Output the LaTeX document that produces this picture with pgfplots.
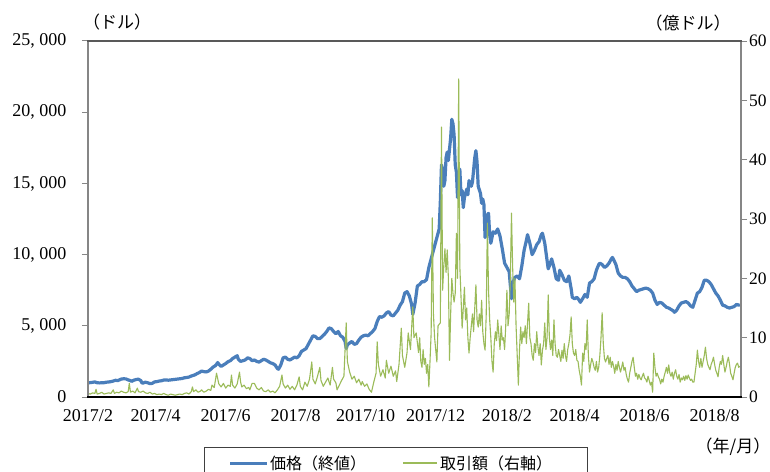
\documentclass[border=0pt]{standalone}
\usepackage{pgfplots}
\pgfplotsset{compat=1.18}
\usepackage{pgfplotstable}
\usepackage{fontspec}
\setmainfont{Liberation Serif}
\newfontfamily\jp{Noto Sans CJK JP}
\definecolor{priceblue}{HTML}{4A7EBB}
\definecolor{volgreen}{HTML}{9BBB59}
\definecolor{axisgray}{HTML}{868686}

% day = days since 2017-02-01, price in USD (close)
\pgfplotstableread{
day price
0 990
2 1010
4 1030
6 1060
8 1000
10 990
12 1000
14 1005
16 1040
18 1055
20 1080
22 1120
24 1175
26 1150
27 1190
29 1260
31 1280
33 1270
35 1200
37 1150
38 1100
40 1180
42 1230
44 1250
46 1150
47 990
48 980
50 1040
52 1000
54 940
56 960
58 1060
60 1080
62 1120
64 1140
66 1190
68 1200
70 1180
72 1200
74 1220
76 1240
78 1260
80 1280
82 1300
84 1350
86 1370
88 1400
89 1440
91 1500
93 1550
95 1640
97 1720
99 1820
101 1780
103 1760
105 1820
107 1950
109 2100
111 2200
112 2300
113 2420
114 2300
116 2150
118 2250
120 2350
122 2480
124 2550
126 2700
128 2800
129 2850
130 2900
131 2650
133 2500
135 2550
137 2600
139 2750
141 2700
143 2550
145 2600
147 2500
149 2450
151 2550
153 2650
155 2600
157 2500
159 2400
161 2350
163 2250
165 2000
166 1950
168 2250
170 2750
172 2800
174 2650
176 2600
178 2700
180 2800
182 2750
184 2900
186 3200
188 3300
190 3400
192 3700
194 4000
196 4300
198 4250
200 4100
202 4100
204 4250
206 4400
208 4600
210 4850
212 4800
214 4600
216 4450
218 4600
220 4300
222 4200
224 3900
225 3400
226 3650
228 3800
230 3900
232 3700
234 3750
236 4000
238 4200
240 4300
242 4350
244 4300
246 4450
248 4600
250 4800
252 5300
254 5650
256 5600
258 5700
260 5900
262 6000
264 5750
266 5700
268 5900
270 6100
272 6450
274 6700
276 7300
278 7400
280 7100
282 6500
283 5800
285 6600
287 7800
289 7900
291 8100
293 8100
295 8250
297 9100
299 9700
300 10000
302 10600
304 11200
306 11800
307 13700
308 16300
309 16000
310 14800
311 15200
312 16800
313 17200
314 16600
316 18200
317 19500
318 19200
319 18400
320 16300
321 15800
322 14000
323 15200
324 16000
325 14200
326 14500
327 13300
328 14000
330 14600
331 14200
332 15200
334 14800
335 15100
337 16800
338 17300
339 16500
340 14800
342 14300
343 13600
344 13900
345 13500
346 11200
347 11500
348 12800
349 12900
350 11400
351 10800
352 11200
353 11600
355 11500
357 11800
359 11300
361 10400
363 9400
365 9100
367 8800
369 6900
370 7700
371 8200
372 8400
374 8500
376 8300
378 9200
380 10300
382 11000
383 11400
385 10800
387 10000
389 10300
391 10700
393 10900
395 11400
396 11500
398 10800
400 9600
401 9000
402 9200
404 9700
406 9100
408 8300
410 8200
411 8900
413 8600
415 8200
417 8100
419 8500
421 7600
422 7000
424 6900
426 7000
428 6800
429 6650
431 6900
433 7200
435 7000
437 8000
439 8100
441 8300
443 8900
445 9300
446 9400
448 9300
450 9100
452 9200
454 9400
456 9700
457 9800
458 9650
460 9300
462 8700
464 8500
466 8400
468 8400
470 8300
472 8100
474 7800
476 7600
478 7400
480 7500
482 7550
484 7600
486 7650
488 7600
490 7500
492 7300
494 6800
496 6500
498 6650
500 6600
502 6450
504 6300
506 6250
508 6150
510 6050
511 5950
513 6100
515 6400
517 6600
519 6650
521 6700
523 6600
525 6400
527 6300
529 6800
531 7300
533 7400
535 7700
537 8200
539 8200
541 8100
543 7900
545 7600
547 7300
549 7100
551 6800
553 6450
555 6400
557 6300
559 6250
561 6300
563 6350
565 6500
567 6450
568 6500
}\pricetable

% trading value in 100 million USD
\pgfplotstableread{
day vol
0 0.6
2 0.5
4 0.7
6 0.6
7 1.3
8 0.5
10 0.6
12 0.8
14 0.5
16 0.6
18 0.7
20 0.6
22 1.2
23 0.6
25 0.8
27 0.7
29 1.0
31 0.8
33 0.7
35 0.9
36 2.3
37 0.8
39 1.0
41 0.7
43 1.5
44 0.9
46 0.8
48 1.0
50 0.7
52 0.6
54 0.8
56 0.5
58 0.6
60 0.4
62 0.5
64 0.4
66 0.6
68 0.4
70 0.3
72 0.5
74 0.4
76 0.3
78 0.4
80 0.5
82 0.4
84 0.6
86 0.7
88 0.5
90 0.9
91 1.7
92 0.9
94 1.2
96 0.8
98 1.0
99 1.2
101 0.8
103 1.0
105 1.3
107 1.1
108 2.0
110 1.6
112 4.0
114 2.2
116 1.7
118 2.3
120 1.5
122 2.0
124 1.8
125 3.7
126 2.0
128 1.5
130 2.2
132 4.2
133 2.5
134 1.7
136 2.0
138 1.4
140 1.6
141 1.2
143 2.3
145 2.3
147 1.5
149 1.2
151 1.6
153 1.0
155 0.9
157 1.2
159 0.8
161 1.0
163 0.7
165 1.2
167 1.8
169 3.7
170 2.2
172 1.5
174 2.0
176 1.3
178 1.8
180 1.2
182 2.0
184 3.4
185 1.8
187 1.2
189 2.5
191 1.8
193 3.0
195 5.9
196 3.0
198 2.2
200 3.5
202 5.0
203 2.8
205 1.8
207 2.5
209 3.2
211 2.0
213 5.0
214 3.0
216 2.4
217 1.2
219 2.0
221 2.8
223 3.5
225 12.5
226 6.0
228 4.2
230 3.0
232 3.5
234 2.4
236 3.0
238 2.0
239 2.6
241 1.8
243 2.2
245 1.3
247 0.8
249 2.5
251 4.0
252 9.3
253 5.5
255 3.5
257 4.6
259 3.2
260 6.2
262 4.0
264 5.2
266 3.5
268 4.4
269 2.6
271 5.5
273 11.6
274 7.0
276 5.0
278 7.5
279 10.8
281 8.0
283 15.2
284 10.0
286 10.8
288 7.5
289 10.0
290 6.0
291 5.0
292 8.0
293 5.5
294 6.5
295 4.0
296 5.5
297 1.7
298 6.0
299 10.8
300 30.2
301 14.0
302 10.0
304 5.9
305 12.0
307 12.5
308 45.5
309 18.0
310 22.0
311 25.0
312 21.0
313 24.8
314 20.2
315 6.2
316 14.0
317 20.0
318 17.5
319 16.0
320 17.5
321 27.6
322 20.0
323 53.6
324 22.0
325 17.0
326 11.6
327 15.0
328 18.5
329 13.0
330 15.0
331 10.0
332 7.4
333 10.0
334 12.0
335 14.0
336 11.0
337 15.0
338 18.9
339 13.0
340 11.8
341 14.0
342 12.0
343 16.3
344 11.0
345 9.0
346 7.9
347 14.0
348 29.3
349 18.0
350 13.0
351 10.0
352 6.0
353 4.2
354 9.0
355 11.0
356 9.5
357 13.0
358 10.5
359 8.0
360 12.0
361 9.6
362 10.0
363 8.0
364 12.0
365 18.0
366 12.0
367 14.0
368 20.0
369 31.0
370 22.0
371 16.0
372 20.0
373 12.0
374 7.0
375 2.0
376 8.0
377 11.8
378 9.0
379 11.0
380 10.0
381 12.0
382 9.0
383 12.5
384 15.8
385 10.0
386 9.0
387 7.0
388 6.2
389 9.0
390 7.5
391 11.0
392 8.5
393 7.0
394 9.0
395 5.4
396 7.9
397 9.0
398 12.5
399 8.0
400 10.0
401 17.2
402 10.0
403 8.0
404 9.6
405 7.0
406 13.0
407 9.0
408 7.0
409 6.7
410 8.0
411 7.0
412 6.0
413 7.9
414 6.5
415 9.0
416 7.0
417 6.0
418 8.0
419 9.0
420 10.5
421 13.5
422 9.0
423 7.4
424 7.0
425 8.0
426 6.2
427 6.0
428 4.5
429 3.5
430 2.0
431 7.4
432 6.0
433 9.0
434 8.0
435 13.0
436 7.0
437 4.2
438 5.5
439 6.5
440 5.9
441 5.0
442 4.5
443 6.0
444 4.2
445 5.0
446 7.0
447 10.0
448 14.2
449 9.0
450 6.5
451 5.9
452 6.5
453 7.0
454 5.5
455 6.7
456 5.0
457 6.0
458 5.2
459 4.0
460 5.5
461 4.5
462 6.0
463 5.0
464 4.2
465 5.0
466 5.9
467 4.5
468 5.0
469 3.8
470 3.0
471 2.5
472 4.0
473 5.0
474 6.0
475 6.7
476 5.0
477 3.5
478 4.0
479 3.0
480 3.8
481 3.2
482 2.9
483 3.5
484 4.0
485 3.2
486 3.0
487 2.5
488 3.5
489 2.8
490 2.0
491 2.5
492 0.8
493 7.4
494 5.0
495 3.5
496 4.0
497 3.4
498 3.0
499 2.2
500 3.0
501 2.5
502 3.5
503 4.2
504 5.0
505 4.0
506 5.4
507 4.0
508 3.5
509 4.2
510 3.0
511 4.0
512 4.6
513 3.5
514 3.0
515 3.8
516 2.5
517 3.2
518 2.9
519 3.5
520 2.8
521 3.6
522 3.0
523 3.7
524 3.2
525 2.8
526 3.0
527 2.5
528 2.5
529 4.0
530 5.5
531 7.9
532 6.0
533 5.0
534 6.5
535 5.0
536 6.0
537 7.0
538 8.4
539 6.5
540 5.5
541 5.0
542 4.6
543 5.5
544 6.0
545 6.7
546 5.5
547 4.5
548 4.0
549 3.4
550 5.0
551 6.0
552 5.5
553 7.0
554 5.5
555 4.2
556 5.0
557 6.0
558 6.7
559 5.5
560 4.0
561 3.5
562 2.9
563 4.0
564 5.0
565 5.5
566 5.7
567 5.0
568 5.2
}\voltable

\begin{document}
\begin{tikzpicture}[x=1pt,y=1pt]
\clip (0,0) rectangle (770,471);
\fill[white] (0,0) rectangle (770,471);

\pgfplotsset{
  commonaxis/.style={
    at={(88pt,74pt)}, anchor=south west,
    scale only axis, width=653pt, height=356pt,
    xmin=0, xmax=569,
    axis line style={draw=none},
    tick align=outside,
    major tick length=6pt,
    scaled ticks=false,
    /pgf/number format/assume math mode=true,
    ticklabel style={font=\fontsize{18}{18}\selectfont},
    clip=false,
  },
}

% price, left axis
\begin{axis}[commonaxis,
  ymin=0, ymax=25000,
  axis y line*=left, axis x line*=bottom,
  xtick={0,59,120,181,242,303,365,424,485,546},
  xticklabels={2017/2,2017/4,2017/6,2017/8,2017/10,2017/12,2018/2,2018/4,2018/6,2018/8},
  x tick style={draw=none},
  xticklabel style={yshift=-3pt},
  ytick={0,5000,10000,15000,20000,25000},
  yticklabels={0,{5, 000},{10, 000},{15, 000},{20, 000},{25, 000}},
  y tick style={axisgray, line width=1pt},
  yticklabel style={xshift=-12pt},
]
\addplot[priceblue, line width=3.2pt, line join=round] table[x=day,y=price]{\pricetable};
\end{axis}

% trading value, right axis
\begin{axis}[commonaxis,
  ymin=0, ymax=60,
  axis y line*=right, axis x line=none,
  ytick={0,10,20,30,40,50,60},
  y tick style={axisgray, line width=1pt},
  yticklabel style={xshift=-1.5pt, font=\fontsize{17.5}{17.5}\selectfont},
]
\addplot[volgreen, line width=1.1pt, line join=round] table[x=day,y=vol]{\voltable};
\end{axis}

% plot frame
\draw[axisgray, line width=1.6pt] (88,74) -- (88,430);
\draw[axisgray, line width=1.6pt] (741,74) -- (741,430);
\draw[black!65, line width=1.6pt] (87.2,430) -- (741.8,430);
\draw[black, line width=2.6pt] (87.2,74) -- (741.8,74);

% axis units
\node[font=\jp\fontsize{17}{17}\selectfont] at (117,449) {（ドル）};
\node[font=\jp\fontsize{17}{17}\selectfont] at (688,448) {（億ドル）};
\node[font=\jp\fontsize{17}{17}\selectfont] at (733,24) {（年/月）};

% legend
\draw[black!75, line width=0.8pt] (204,24) rectangle (587,-12);
\draw[priceblue, line width=3pt] (230,8) -- (267,8);
\node[font=\jp\fontsize{16}{16}\selectfont, anchor=west, inner sep=0pt] at (270,8) {価格（終値）};
\draw[volgreen, line width=1.1pt] (403,8) -- (437,8);
\node[font=\jp\fontsize{16}{16}\selectfont, anchor=west, inner sep=0pt] at (440,8) {取引額（右軸）};
\end{tikzpicture}
\end{document}
